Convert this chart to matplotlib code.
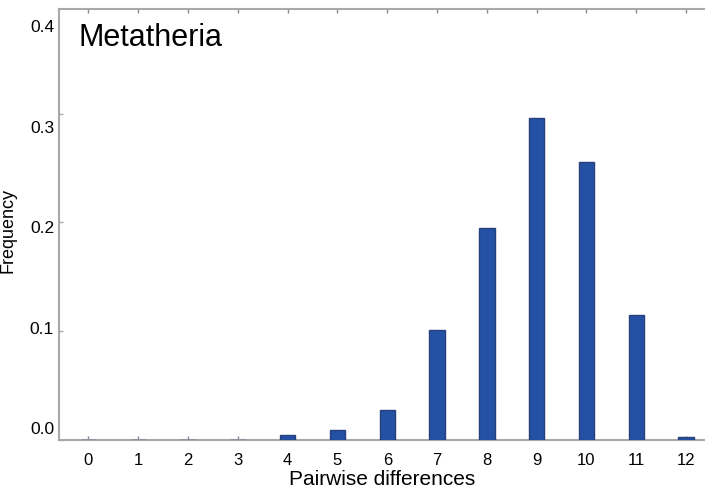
import matplotlib
matplotlib.use('Agg')
import matplotlib.pyplot as plt
import matplotlib.transforms as mtransforms
import numpy as np

plt.rcParams['font.family'] = ['Liberation Sans', 'DejaVu Sans']

# pairwise differences and their frequency (Metatheria)
diffs = [0, 1, 2, 3, 4, 5, 6, 7, 8, 9, 10, 11, 12]
freq = [0.0, 0.0, 0.0, 0.0, 0.004, 0.0086, 0.0276, 0.1007, 0.1945, 0.296, 0.2553, 0.1143, 0.002]
ytick_vals = [0.0, 0.1, 0.2, 0.3, 0.4]
ytick_labels = ['0.0', '0.1', '0.2', '0.3', '0.4']

fig = plt.figure(figsize=(7.05, 4.93), dpi=100)
ax = fig.add_axes([0.0841, 0.1085, 1 - 0.0841, 0.981 - 0.1085])

ax.bar(diffs, freq, width=0.31, color='#2451a4', edgecolor='#26407c', linewidth=1.0, zorder=3)

ax.set_xlim(-0.586, 12.38)
ax.set_ylim(0, 0.396)

ax.set_xticks(diffs)
ax.set_xticklabels([str(d) for d in diffs], fontsize=12)
ax.set_yticks([0.0, 0.1, 0.2, 0.3])
ax.set_yticklabels([])
ax.tick_params(axis='x', direction='in', length=3, width=1, color='#888888', pad=9.5, top=True)
ax.tick_params(axis='y', direction='in', length=3, width=1, color='#aaaaaa')

# y labels in the original are spaced a little tighter than the ticks
trans = mtransforms.blended_transform_factory(ax.transAxes, ax.transData)
for v, lab in zip(ytick_vals, ytick_labels):
    ax.text(-0.008, 0.0088 + v * 0.926, lab, transform=trans, ha='right', va='center', fontsize=12.5)

for s in ['left', 'top', 'bottom']:
    ax.spines[s].set_color('#a8a8a8')
    ax.spines[s].set_linewidth(1.5)
ax.spines['right'].set_visible(False)

ax.set_xlabel('Pairwise differences', fontsize=15, labelpad=2)
ax.set_ylabel('Frequency', fontsize=13)
ax.yaxis.set_label_coords(-0.067, 0.486)

ax.text(0.0305, 0.915, 'Metatheria', transform=ax.transAxes, ha='left', va='baseline', fontsize=22)

fig.savefig('out.png', dpi=100)
